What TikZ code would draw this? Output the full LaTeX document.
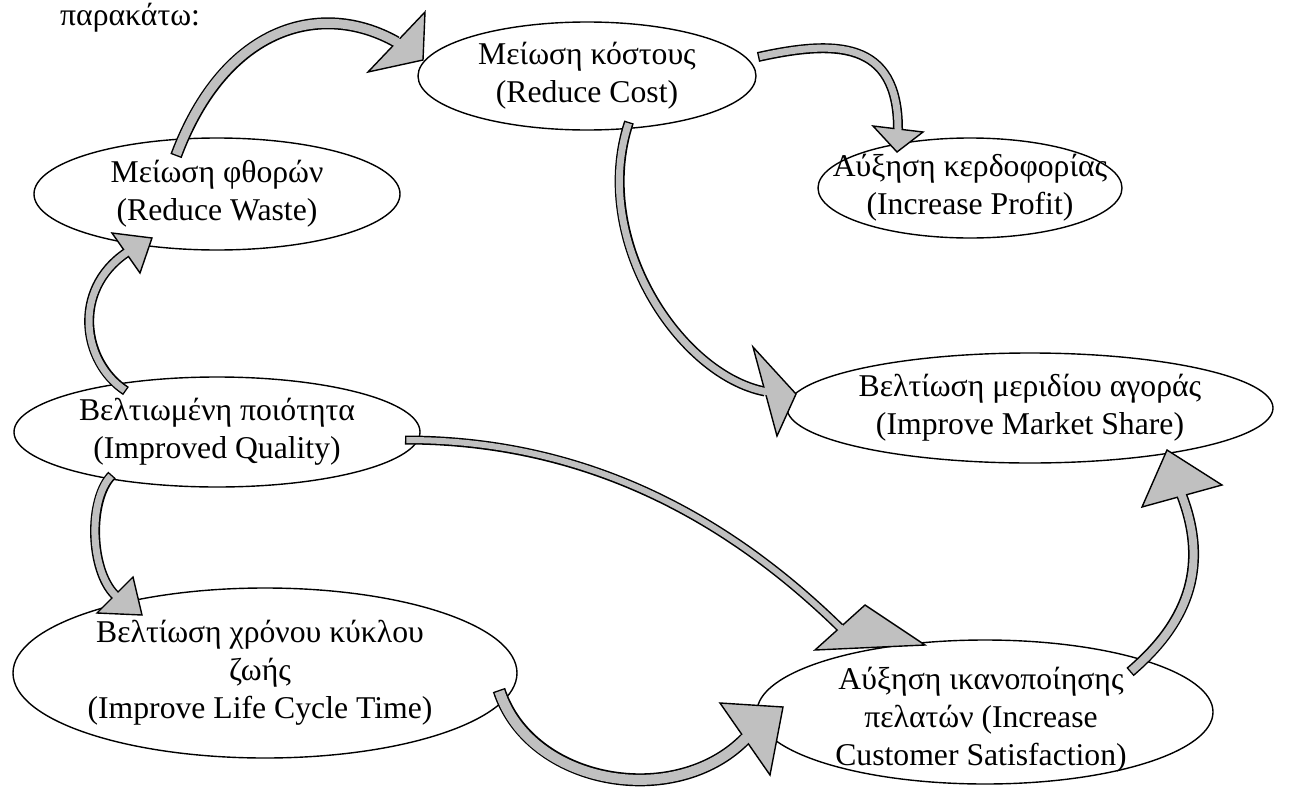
\documentclass[tikz,border=0pt]{standalone}
\usepackage{fontspec}
\setmainfont{Liberation Serif}
\usetikzlibrary{calc,shapes.geometric}
\definecolor{shaftgray}{RGB}{192,192,192}
\tikzset{
  bubble/.style={ellipse, draw, line width=1.4pt, inner sep=0pt},
  caption/.style={align=center, font=\fontsize{31.7}{38}\selectfont, inner sep=0pt},
  headstyle/.style={fill=shaftgray, draw=black, line width=1.4pt, line join=miter},
}
% Curved block arrow: #1 outer width, #2 inner width, #3 start, #4/#5 controls,
% #6 head corner, #7 tip, #8 head corner
\newcommand{\bigarrow}[8]{%
  \coordinate (bm) at ($(#6)!0.5!(#8)$);
  \draw[line width=#1, line cap=butt] (#3) .. controls (#4) and (#5) .. (bm);
  \filldraw[headstyle] (#6) -- (#7) -- (#8) -- cycle;
  \draw[line width=#2, shaftgray, line cap=butt, shorten <=1.4pt]
    (#3) .. controls (#4) and (#5) .. (bm) -- ($(bm)!2.5pt!(#7)$);
}
\begin{document}
\begin{tikzpicture}[x=1pt,y=-1pt]
\useasboundingbox (0,0) rectangle (1293,787);

\node[caption, anchor=base west] (intro) at (60,25) {παρακάτω:};

% ellipses
\node[bubble, minimum width=338, minimum height=108] (cost)    at (587,76)  {};
\node[bubble, minimum width=366, minimum height=112] (waste)   at (217,194) {};
\node[bubble, minimum width=304, minimum height=100] (profit)  at (970,188) {};
\node[bubble, minimum width=486, minimum height=110] (market)  at (1030,408) {};
\node[bubble, minimum width=406, minimum height=110] (quality) at (217,432) {};
\node[bubble, minimum width=504, minimum height=170] (life)    at (265,673) {};
\node[bubble, minimum width=456, minimum height=144] (satis)   at (985,712) {};

% labels
\node[caption] (cost-t)    at (cost)    {Μείωση κόστους\\(Reduce Cost)};
\node[caption] (waste-t)   at (waste)   {Μείωση φθορών\\(Reduce Waste)};
\node[caption] (profit-t)  at (profit)  {Αύξηση κερδοφορίας\\(Increase Profit)};
\node[caption] (market-t)  at (market)  {Βελτίωση μεριδίου αγοράς\\(Improve Market Share)};
\node[caption] (quality-t) at (quality) {Βελτιωμένη ποιότητα\\(Improved Quality)};
\node[caption] (life-t)    at ($(life)+(-5,0)$) {Βελτίωση χρόνου κύκλου\\ζωής\\(Improve Life Cycle Time)};
\node[caption] (satis-t)   at ($(satis)+(-4,8)$) {Αύξηση ικανοποίησης\\πελατών (Increase\\Customer Satisfaction)};

% connector end points
\coordinate (a1s) at ($(waste)+(-41,-38)$);
\coordinate (a1t) at ($(cost)+(-164,-16)$);
\coordinate (a2s) at ($(cost)+(171,-19)$);
\coordinate (a2t) at ($(profit)+(-73,-36)$);
\coordinate (a3s) at ($(cost)+(42,46)$);
\coordinate (a3t) at ($(market)+(-234,-14)$);
\coordinate (a4s) at ($(quality)+(-91,-41)$);
\coordinate (a4t) at ($(waste)+(-65,44)$);
\coordinate (a5s) at ($(quality)+(-105,43)$);
\coordinate (a5t) at ($(life)+(-123,-58)$);
\coordinate (a6s) at ($(quality)+(188,8)$);
\coordinate (a6t) at ($(satis)+(-60,-67)$);
\coordinate (a7s) at ($(life)+(234,17)$);
\coordinate (a7t) at ($(satis)+(-202,-5)$);
\coordinate (a8s) at ($(satis)+(145,-40)$);
\coordinate (a8t) at ($(market)+(137,42)$);

% arrows
\bigarrow{12}{9}{a1s}{225,25}{322,0}{425,12}{a1t}{368,72}
\bigarrow{10}{7}{a2s}{835,40}{898,40}{873,126}{a2t}{923,132}
\bigarrow{10}{7}{a3s}{590,240}{680,375}{753,347}{a3t}{777,436}
\bigarrow{10}{7}{a4s}{82,362}{72,290}{140,273}{a4t}{112,233}
\bigarrow{10}{7}{a5s}{88,500}{90,570}{133,577}{a5t}{97,613}
\bigarrow{9}{6}{a6s}{600,440}{740,530}{865,605}{a6t}{815,650}
\bigarrow{13}{10}{a7s}{530,785}{675,810}{720,703}{a7t}{770,775}
\bigarrow{11}{8}{a8s}{1185,625}{1210,570}{1222,485}{a8t}{1142,507}
\end{tikzpicture}
\end{document}
